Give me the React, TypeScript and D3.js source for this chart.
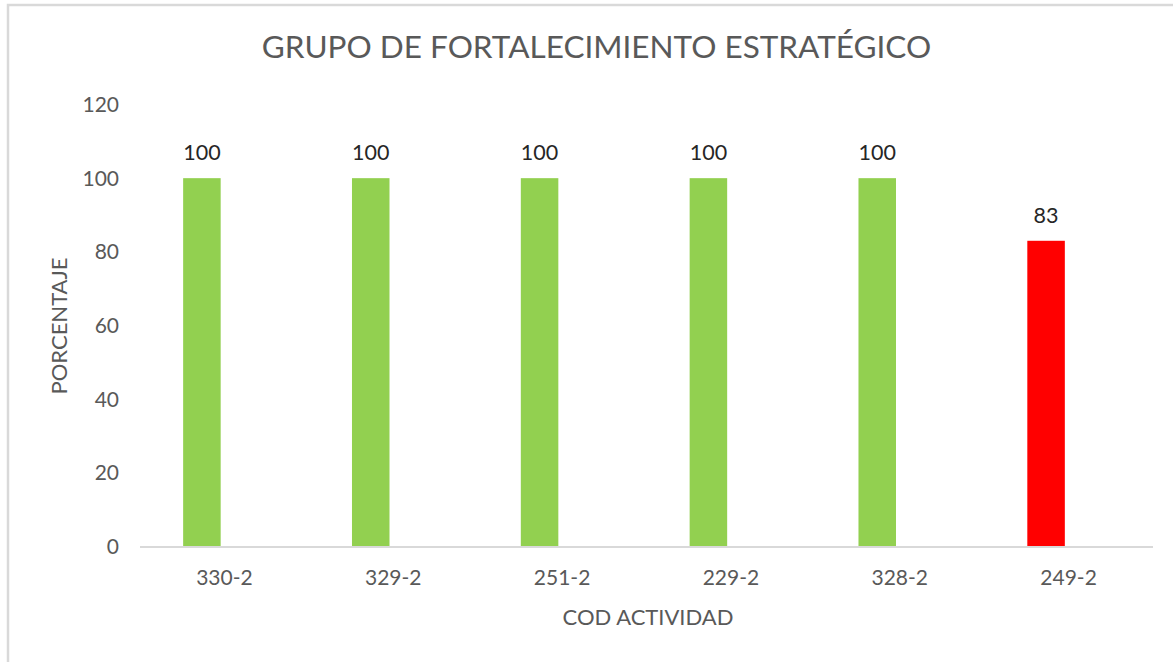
import React, { useEffect, useRef } from 'react'
import * as d3 from 'd3'

const categories = ['330-2', '329-2', '251-2', '229-2', '328-2', '249-2']
const porcentaje = [100, 100, 100, 100, 100, 83]
const barColors = ['#92d050', '#92d050', '#92d050', '#92d050', '#92d050', '#ff0000']
const yTicks = [0, 20, 40, 60, 80, 100, 120]
const series = ['porcentaje', 'vacio']

const title = 'GRUPO DE FORTALECIMIENTO ESTRATÉGICO'
const yTitle = 'PORCENTAJE'
const xTitle = 'COD ACTIVIDAD'

const W = 1173
const H = 662
const FONT = 'Lato, "Open Sans", sans-serif'

export default function App() {
  const ref = useRef<SVGSVGElement>(null)

  useEffect(() => {
    const svg = d3.select(ref.current)
    svg.selectAll('*').remove()

    const margin = { top: 104.5, right: 20, bottom: 115.5, left: 140 }
    const plotW = 1153 - margin.left
    const plotH = H - margin.top - margin.bottom

    // chart frame
    svg.append('rect')
      .attr('x', 8).attr('y', 5)
      .attr('width', W).attr('height', H)
      .attr('fill', '#fff')
      .attr('stroke', '#d9d9d9')
      .attr('stroke-width', 2.5)

    const g = svg.append('g')
      .attr('transform', 'translate(' + margin.left + ',' + margin.top + ')')

    const x0 = d3.scaleBand<string>()
      .domain(categories)
      .range([0, plotW])
      .padding(0)

    // second (empty) series keeps the bar to the left of the category
    const x1 = d3.scaleBand<string>()
      .domain(series)
      .range([0, x0.bandwidth()])
      .paddingInner(0)
      .paddingOuter(1.25)
      .align(0.46)

    const y = d3.scaleLinear()
      .domain([0, 120])
      .range([plotH, 0])

    // y tick labels
    g.append('g')
      .selectAll('text')
      .data(yTicks)
      .enter().append('text')
      .attr('x', -21)
      .attr('y', d => y(d))
      .attr('dy', '0.35em')
      .attr('text-anchor', 'end')
      .attr('font-family', FONT)
      .attr('font-size', 21)
      .attr('fill', '#595959')
      .text(d => d)

    // bars
    g.append('g')
      .selectAll('rect')
      .data(porcentaje)
      .enter().append('rect')
      .attr('x', (d, i) => x0(categories[i])! + x1('porcentaje')!)
      .attr('y', d => y(d))
      .attr('width', x1.bandwidth())
      .attr('height', d => plotH - y(d))
      .attr('fill', (d, i) => barColors[i])

    // data labels
    g.append('g')
      .selectAll('text')
      .data(porcentaje)
      .enter().append('text')
      .attr('x', (d, i) => x0(categories[i])! + x1('porcentaje')! + x1.bandwidth() / 2)
      .attr('y', d => y(d) - 18)
      .attr('text-anchor', 'middle')
      .attr('font-family', FONT)
      .attr('font-size', 21.5)
      .attr('fill', '#262626')
      .text(d => d)

    // x axis line
    g.append('line')
      .attr('x1', 0).attr('x2', plotW)
      .attr('y1', plotH + 0.5).attr('y2', plotH + 0.5)
      .attr('stroke', '#d9d9d9')
      .attr('stroke-width', 2)

    // x tick labels
    g.append('g')
      .selectAll('text')
      .data(categories)
      .enter().append('text')
      .attr('x', d => x0(d)! + x0.bandwidth() / 2)
      .attr('y', plotH + 38.5)
      .attr('text-anchor', 'middle')
      .attr('font-family', FONT)
      .attr('font-size', 21)
      .attr('fill', '#595959')
      .text(d => d)

    // titles
    svg.append('text')
      .attr('x', 596.5).attr('y', 58)
      .attr('text-anchor', 'middle')
      .attr('font-family', FONT)
      .attr('font-size', 31.5)
      .attr('fill', '#595959')
      .text(title)

    svg.append('text')
      .attr('transform', 'translate(67,326) rotate(-90)')
      .attr('text-anchor', 'middle')
      .attr('font-family', FONT)
      .attr('font-size', 22)
      .attr('fill', '#595959')
      .text(yTitle)

    svg.append('text')
      .attr('x', 648).attr('y', 625)
      .attr('text-anchor', 'middle')
      .attr('font-family', FONT)
      .attr('font-size', 22)
      .attr('fill', '#595959')
      .text(xTitle)
  }, [])

  return (
    <div style={{ position: 'absolute', left: 0, top: 0, width: W, height: H, overflow: 'hidden', background: '#fff' }}>
      <svg ref={ref} width={W} height={H} style={{ display: 'block' }} />
    </div>
  )
}
